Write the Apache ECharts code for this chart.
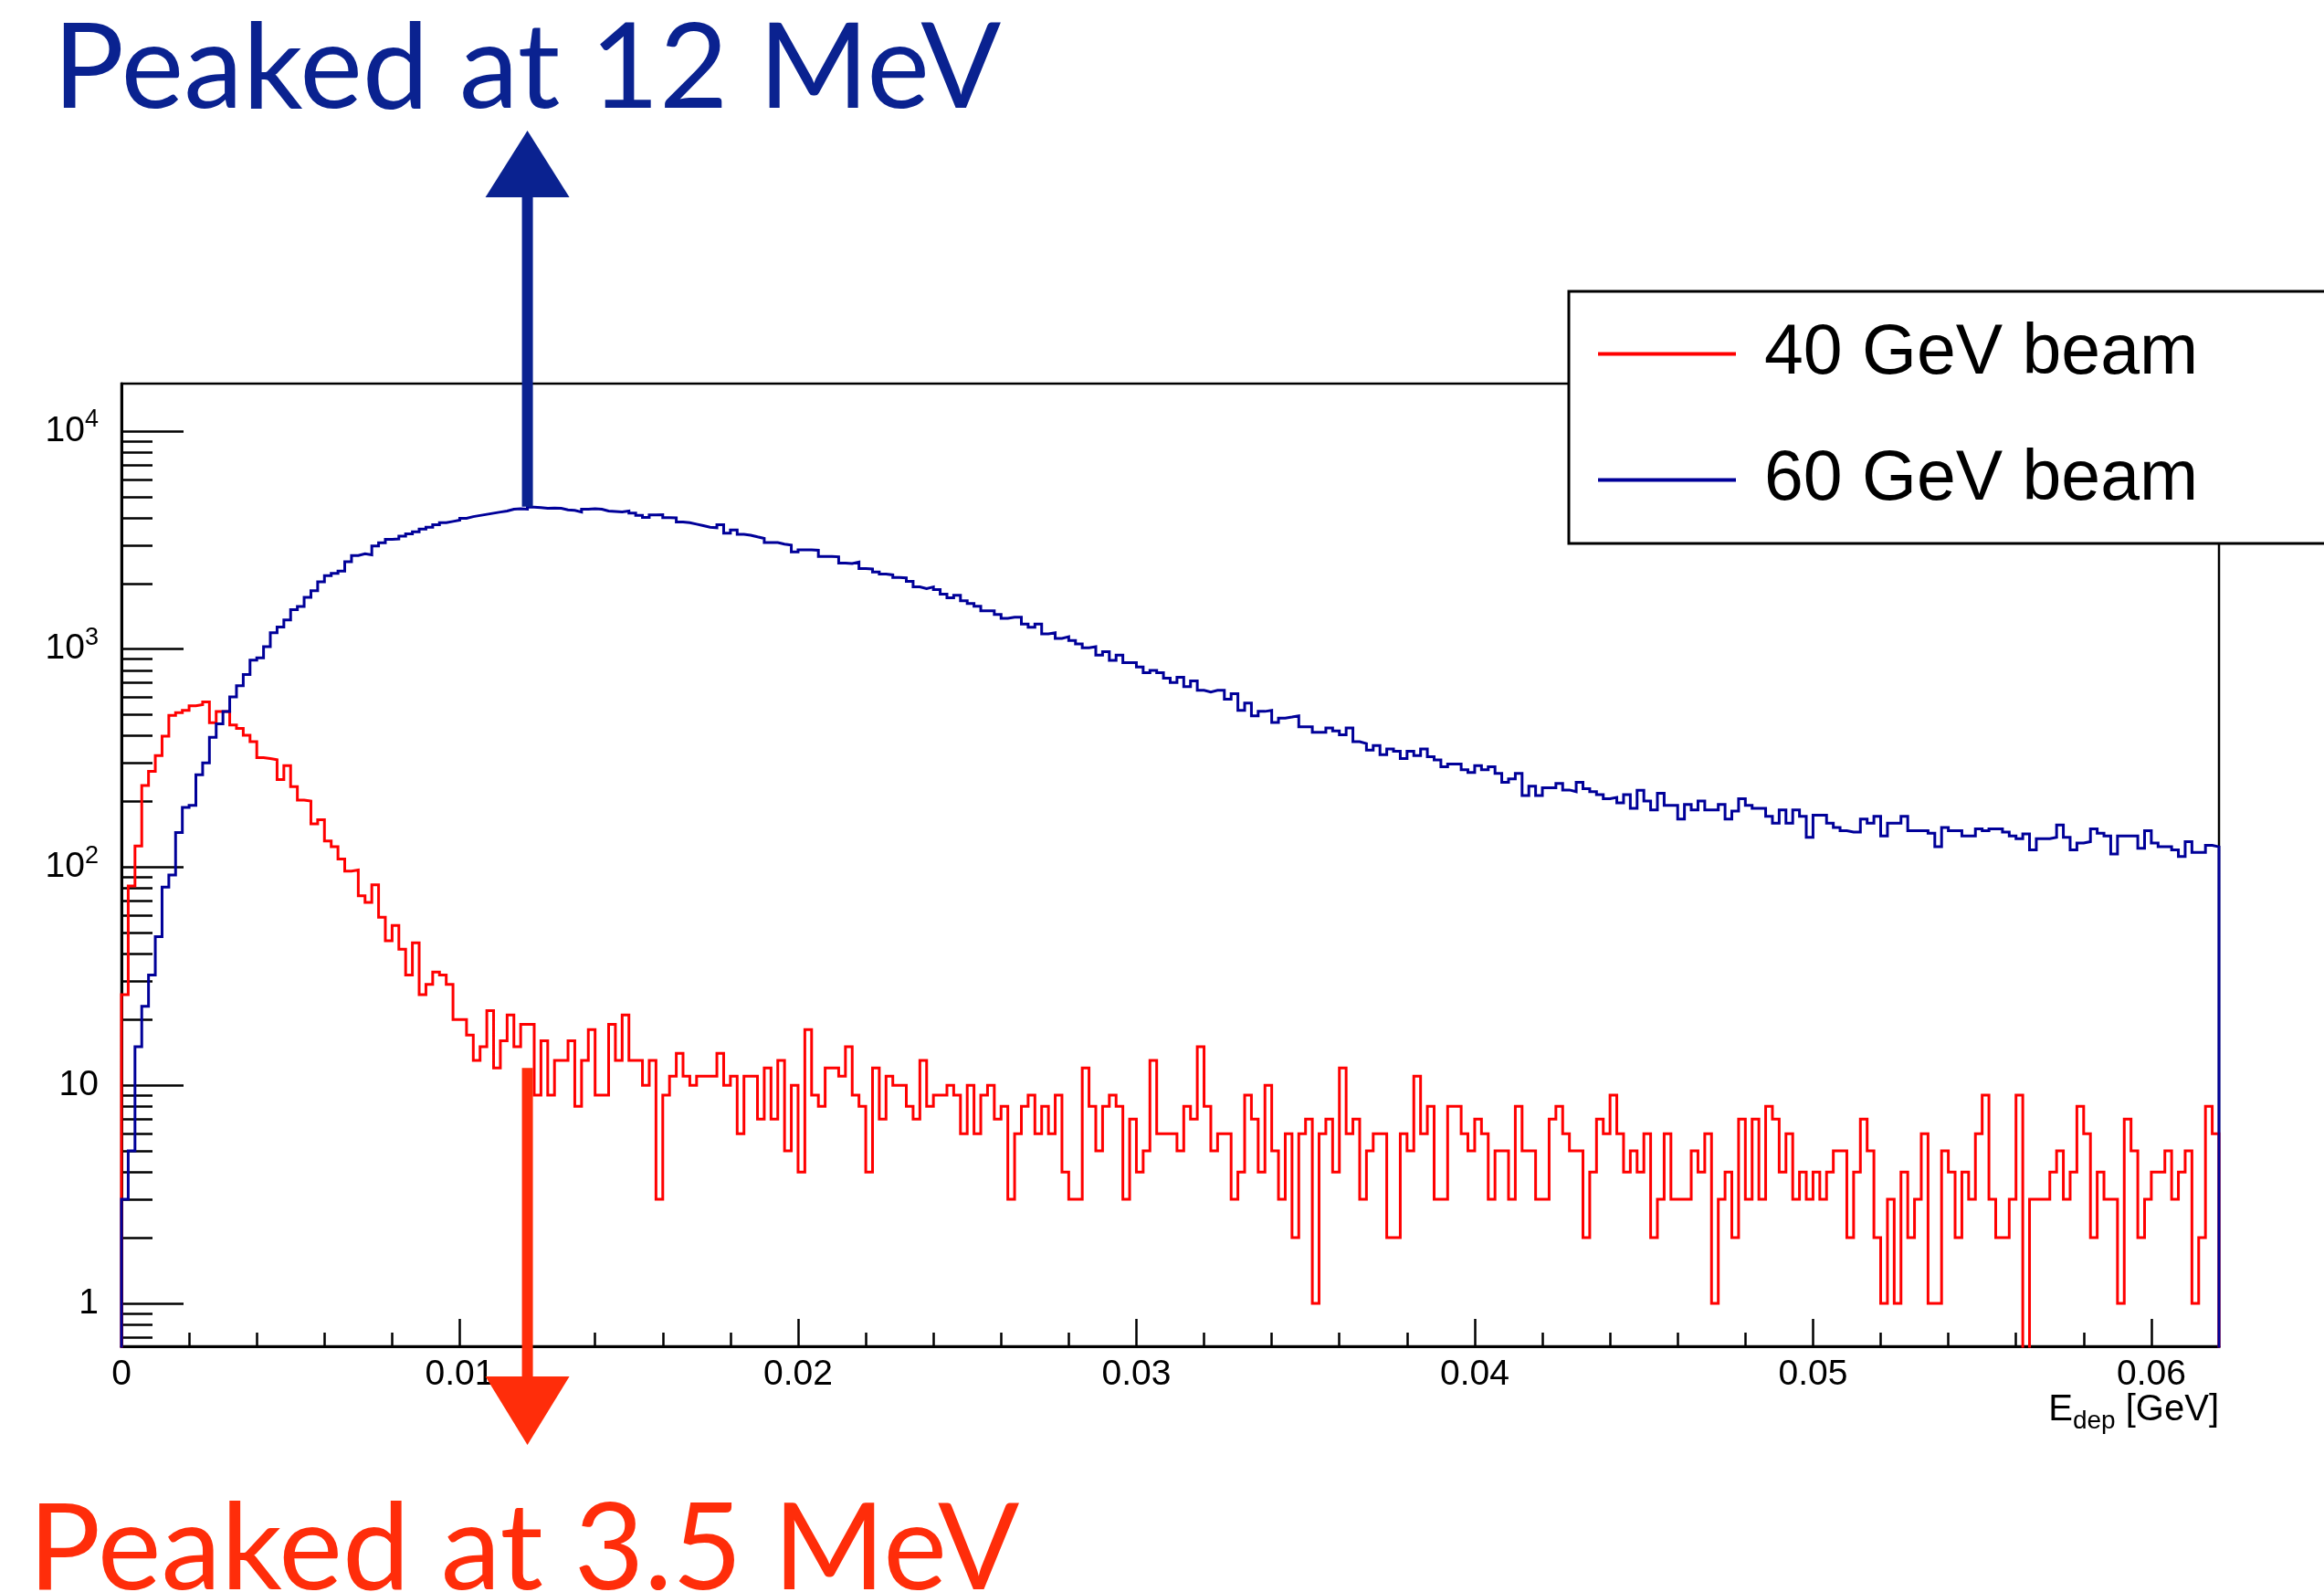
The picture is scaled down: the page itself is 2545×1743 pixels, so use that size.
<!DOCTYPE html>
<html><head><meta charset="utf-8">
<script src="https://cdn.jsdelivr.net/npm/echarts@6/dist/echarts.min.js"></script>
<style>html,body{margin:0;padding:0;background:#fff}#c{width:2545px;height:1743px}</style>
</head><body><div id="c"></div>
<script>
// ---- histogram binning ----
const binLow = 0;
const binWidth = 0.0002;
const seriesNames = ['40 GeV beam', '60 GeV beam'];

// ---- bin contents (310 bins, 0 - 0.062 GeV) ----
const beam40 = [
26,82,125,237,275,325,399,496,511,524,
549,556,572,460,517,517,449,433,403,376,
318,315,311,252,292,234,203,201,158,165,
132,124,109,96,97,74,69,83,59,46,
54,42,32,45,26,29,33,32,29,20,
20,17,13,15,22,12,16,21,15,19,
19,9,16,9,13,13,16,8,13,18,
9,9,19,13,21,13,13,10,13,
3,9,11,14,11,10,11,11,11,14,10,11,6,11,11,7,12,7,13,5,10,4,18,9,8,12,12,11,15,9,8,4,12,7,11,10,10,8,
7,13,8,9,9,10,9,6,10,6,9,10,7,8,3,6,8,9,6,8,6,9,4,3,3,12,8,5,8,9,8,3,7,4,5,13,6,6,6,
5,8,7,15,8,5,6,6,3,4,9,7,4,10,5,3,6,2,6,7,1,6,7,4,12,6,7,3,5,6,6,2,2,6,5,11,6,8,3,
3,8,8,6,5,7,6,3,5,5,3,8,5,5,3,3,7,8,6,5,5,2,4,7,6,9,6,4,5,4,6,2,3,6,3,3,3,5,4,
6,1,3,4,2,7,3,7,3,8,7,4,6,3,4,3,4,3,4,5,5,2,4,7,5,2,1,3,1,4,2,3,6,1,1,5,4,2,4,
3,6,9,3,2,2,3,9,0,3,3,3,4,5,3,4,8,6,2,4,3,3,1,7,5,2,3,4,4,5,3,4,5,1,2,8,6
];
const beam60 = [
3,5,15,23,32,48,81,92,144,188,
192,265,301,394,454,517,603,679,764,891,
912,1026,1190,1262,1361,1516,1570,1726,1853,2037,
2173,2225,2277,2518,2685,2735,2704,2972,3076,3190,
3200,3300,3380,3450,3550,3620,3720,3800,3850,3900,
3980,4050,4100,4150,4200,4250,4300,4380,4400,4380,
4480,4460,4420,4430,4420,4350,4330,4250,4380,4400,
4380,4300,4280,4260,4300,4200,4100,4020,
4120,4130,4010,4000,3830,3800,3740,3680,3620,3600,3720,3400,3520,3360,3330,3270,3220,3080,3080,3030,3000,2790,2850,2850,2840,2660,2660,2650,2480,2470,2510,2340,2330,2260,2210,2190,2130,2120,2045,
1929,1896,1929,1874,1787,1717,1766,1667,1619,1573,1500,1500,1441,1384,1400,1400,1304,1259,1304,1174,1188,1120,1140,1094,1057,1015,1026,939,973,887,939,866,866,827,780,798,780,736,702,
743,673,714,647,636,647,647,589,624,524,565,494,518,524,461,483,488,494,440,440,415,415,435,422,405,435,376,369,344,361,328,348,340,315,340,325,348,321,310,
289,297,297,280,272,292,280,289,269,245,254,269,213,235,213,231,231,242,226,222,245,229,222,215,206,209,197,215,186,225,201,183,218,192,192,166,194,183,201,
183,183,194,166,181,206,192,186,186,171,159,183,159,183,171,137,173,173,159,152,147,145,145,166,159,171,139,159,159,171,147,147,147,143,124,152,147,147,139,
139,150,147,150,150,145,139,135,142,120,135,135,137,156,137,120,129,131,150,143,139,115,139,139,139,122,147,129,124,124,120,112,131,117,117,126,124
];

// ---- axes ----
const xRange = [0, 0.062];
const yRange = [0.635, 16500];
const xMajorTicks = [0, 0.01, 0.02, 0.03, 0.04, 0.05, 0.06];
const xMinorTicks = [0.002,0.004,0.006,0.008,0.012,0.014,0.016,0.018,0.022,0.024,0.026,0.028,
  0.032,0.034,0.036,0.038,0.042,0.044,0.046,0.048,0.052,0.054,0.056,0.058];
const yMajorTicks = [1, 10, 100, 1000, 10000];
const yMinorTicks = [0.7,0.8,0.9,2,3,4,5,6,7,8,9,20,30,40,50,60,70,80,90,
  200,300,400,500,600,700,800,900,2000,3000,4000,5000,6000,7000,8000,9000];
const xTitle = ['E', 'dep', ' [GeV]'];

// ---- annotations ----
const annoBlue = { text: 'Peaked at 12 MeV', x: 0.012, from: 4500 };
const annoRed = { text: 'Peaked at 3.5 MeV', x: 0.012, from: 12 };

const RED = '#ff0000', BLUE = '#000099';
const ANNO_BLUE = '#0a2290', ANNO_RED = '#ff2d0a';
const FONT = 'Liberation Sans, Arial, Helvetica, sans-serif';
const emptyLevel = 0.1; // empty bins are drawn below the frame (clipped)

function histPath(counts) {
  const pts = [[binLow, emptyLevel]];
  counts.forEach((c, i) => {
    const lo = binLow + i * binWidth, hi = binLow + (i + 1) * binWidth;
    const v = c > 0 ? c : emptyLevel;
    pts.push([lo, v], [hi, v]);
  });
  pts.push([binLow + counts.length * binWidth, emptyLevel]);
  return pts;
}

const chart = echarts.init(document.getElementById('c'), null, { renderer: 'canvas' });

const option = {
  animation: false,
  backgroundColor: '#fff',
  grid: { left: 133, right: 115, top: 420, bottom: 269, containLabel: false, outerBoundsMode: 'none',
    show: true, borderColor: '#000', borderWidth: 2.5 },
  legend: {
    orient: 'vertical', left: 1718, top: 319,
    backgroundColor: '#fff', borderColor: '#000', borderWidth: 3,
    padding: [30, 200, 31, 32],
    itemWidth: 151, itemHeight: 4, itemGap: 61, icon: 'rect',
    textStyle: { fontSize: 77, fontFamily: FONT, color: '#000', padding: [8, 0, 0, 26] },
    data: seriesNames,
    z: 10
  },
  xAxis: [{
    type: 'value', min: xRange[0], max: xRange[1], position: 'bottom',
    axisLine: { show: true, onZero: false, lineStyle: { color: '#000', width: 3 } },
    axisTick: { show: true, inside: true, length: 30, customValues: xMajorTicks, lineStyle: { color: '#000', width: 2.5 } },
    axisLabel: { customValues: xMajorTicks, fontSize: 39, fontFamily: FONT, color: '#000', margin: 12,
      formatter: v => String(v) },
    splitLine: { show: false }
  }, {
    type: 'value', min: xRange[0], max: xRange[1], position: 'bottom',
    axisLine: { show: false },
    axisTick: { show: true, inside: true, length: 15, customValues: xMinorTicks, lineStyle: { color: '#000', width: 2.5 } },
    axisLabel: { show: false }, splitLine: { show: false }
  }],
  yAxis: [{
    type: 'log', min: yRange[0], max: yRange[1], position: 'left',
    axisLine: { show: true, onZero: false, lineStyle: { color: '#000', width: 3 } },
    axisTick: { show: true, inside: true, length: 68, customValues: yMajorTicks, lineStyle: { color: '#000', width: 2.5 } },
    axisLabel: { customValues: yMajorTicks, fontSize: 39, fontFamily: FONT, color: '#000', margin: 25,
      formatter: v => {
        const e = Math.round(Math.log10(v));
        return e <= 1 ? String(Math.round(v)) : '{b|10}{s|' + e + '}';
      },
      rich: { b: { fontSize: 39, fontFamily: FONT, color: '#000' },
              s: { fontSize: 27, fontFamily: FONT, color: '#000', padding: [0, 0, 24, 0] } } },
    splitLine: { show: false }
  }, {
    type: 'log', min: yRange[0], max: yRange[1], position: 'left',
    axisLine: { show: false },
    axisTick: { show: true, inside: true, length: 34, customValues: yMinorTicks, lineStyle: { color: '#000', width: 2.5 } },
    axisLabel: { show: false }, splitLine: { show: false }
  }],
  series: [{
    type: 'line', name: seriesNames[0], xAxisIndex: 0, yAxisIndex: 0,
    data: histPath(beam40), symbol: 'none', showSymbol: false, clip: true,
    color: RED, itemStyle: { color: RED },
    lineStyle: { color: RED, width: 3, join: 'miter', cap: 'butt' }, z: 3
  }, {
    type: 'line', name: seriesNames[1], xAxisIndex: 0, yAxisIndex: 0,
    data: histPath(beam60), symbol: 'none', showSymbol: false, clip: true,
    color: BLUE, itemStyle: { color: BLUE },
    lineStyle: { color: BLUE, width: 3, join: 'miter', cap: 'butt' }, z: 4
  }]
};
chart.setOption(option);

// annotation arrows and axis title, anchored on the data coordinates
const pBlue = chart.convertToPixel({ xAxisIndex: 0, yAxisIndex: 0 }, [annoBlue.x, annoBlue.from]);
const pRed = chart.convertToPixel({ xAxisIndex: 0, yAxisIndex: 0 }, [annoRed.x, annoRed.from]);
const pEnd = chart.convertToPixel({ xAxisIndex: 0, yAxisIndex: 0 }, [xRange[1], yRange[0]]);
const ax = pBlue[0];
const headW = 46;
chart.setOption({
  graphic: [
    { type: 'text', x: pEnd[0], y: pEnd[1] + 44, z: 50,
      style: { text: '{e|' + xTitle[0] + '}{d|' + xTitle[1] + '}{e|' + xTitle[2] + '}',
        align: 'right', verticalAlign: 'top', fill: '#000',
        rich: { e: { fontSize: 40, fontFamily: FONT, fill: '#000' },
                d: { fontSize: 28, fontFamily: FONT, fill: '#000', padding: [24, 0, 0, 0] } } } },
    { type: 'text', x: 58, y: 76, z: 100,
      style: { text: annoBlue.text, font: '130px Lato', fill: ANNO_BLUE, align: 'left', verticalAlign: 'middle' } },
    { type: 'text', x: 31, y: 1697, z: 100,
      style: { text: annoRed.text, font: '132px Lato', fill: ANNO_RED, align: 'left', verticalAlign: 'middle' } },
    { type: 'line', z: 100, shape: { x1: ax, y1: pBlue[1], x2: ax, y2: 200 },
      style: { stroke: ANNO_BLUE, lineWidth: 12 } },
    { type: 'polygon', z: 100, shape: { points: [[ax, 143], [ax - headW, 216], [ax + headW, 216]] },
      style: { fill: ANNO_BLUE } },
    { type: 'line', z: 100, shape: { x1: pRed[0], y1: pRed[1], x2: pRed[0], y2: 1520 },
      style: { stroke: ANNO_RED, lineWidth: 12 } },
    { type: 'polygon', z: 100, shape: { points: [[pRed[0], 1582], [pRed[0] - headW, 1507], [pRed[0] + headW, 1507]] },
      style: { fill: ANNO_RED } }
  ]
});
</script></body></html>
